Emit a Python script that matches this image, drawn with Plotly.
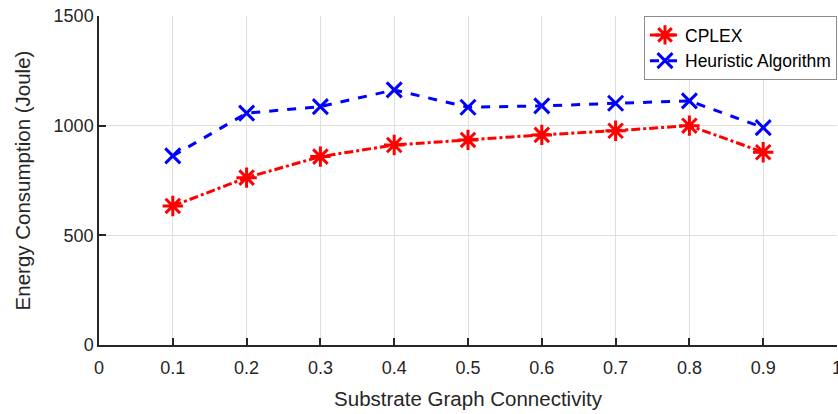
import plotly.graph_objects as go

connectivity = [0.1, 0.2, 0.3, 0.4, 0.5, 0.6, 0.7, 0.8, 0.9]
cplex = [634, 763, 859, 912, 935, 958, 977, 1000, 879]
heuristic = [862, 1057, 1087, 1163, 1084, 1090, 1102, 1113, 991]
x_ticks = [0, 0.1, 0.2, 0.3, 0.4, 0.5, 0.6, 0.7, 0.8, 0.9, 1]
x_tick_labels = ["0", "0.1", "0.2", "0.3", "0.4", "0.5", "0.6", "0.7", "0.8", "0.9", "1"]
y_ticks = [0, 500, 1000, 1500]

fig = go.Figure()
fig.add_trace(go.Scatter(
    x=connectivity, y=cplex, name="CPLEX", mode="lines+markers",
    line=dict(color="#ff0000", width=3, dash="dashdot"),
    marker=dict(symbol="asterisk-open", size=17, line=dict(color="#ff0000", width=3)),
))
fig.add_trace(go.Scatter(
    x=connectivity, y=heuristic, name="Heuristic Algorithm", mode="lines+markers",
    line=dict(color="#0000ff", width=3, dash="dash"),
    marker=dict(symbol="x-thin-open", size=15, line=dict(color="#0000ff", width=3)),
))

axis_common = dict(
    showgrid=True, gridcolor="#dedede", gridwidth=1,
    showline=True, linecolor="#262626", linewidth=1.5,
    ticks="inside", ticklen=7, tickcolor="#262626", tickwidth=1.5,
    zeroline=False, mirror=False,
    tickfont=dict(family="Liberation Sans, Arial", size=18, color="#262626"),
)

fig.update_layout(
    width=838, height=414,
    margin=dict(l=99, r=1, t=16, b=69),
    plot_bgcolor="white", paper_bgcolor="white",
    font=dict(family="Liberation Sans, Arial", color="#262626"),
    xaxis=dict(range=[0, 1], tickvals=x_ticks, ticktext=x_tick_labels,
               ticklabeloverflow="allow", automargin="bottom", ticklabelstandoff=6,
               title=dict(text="Substrate Graph Connectivity", font=dict(size=20.5), standoff=14),
               **axis_common),
    yaxis=dict(range=[0, 1500], tickvals=y_ticks, automargin="left",
               title=dict(text="Energy Consumption (Joule)", font=dict(size=20.5), standoff=17),
               **axis_common),
    legend=dict(x=1, y=1, xanchor="right", yanchor="top",
                bgcolor="white", bordercolor="#8c8c8c", borderwidth=1,
                font=dict(family="Liberation Sans, Arial", size=17.5, color="#000000"),
                tracegroupgap=0, itemwidth=30),
    showlegend=True,
)

fig.write_html("out.html")
